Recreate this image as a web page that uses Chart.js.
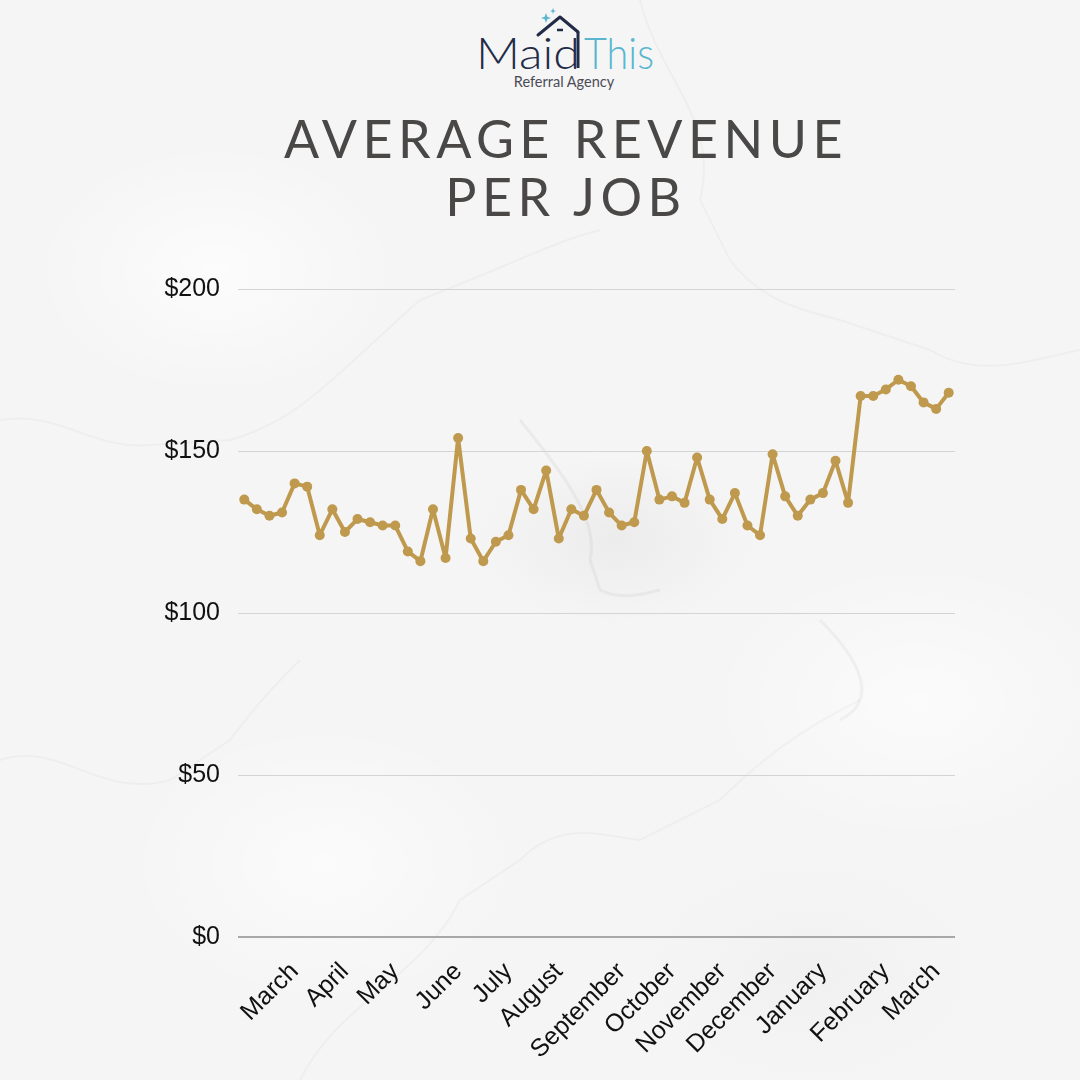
<!DOCTYPE html>
<html>
<head>
<meta charset="utf-8">
<script src="https://cdn.jsdelivr.net/npm/chart.js@4.4.1/dist/chart.umd.min.js"></script>
<style>
  html, body { margin: 0; padding: 0; }
  body {
    width: 1080px; height: 1080px; position: relative; overflow: hidden;
    background:
      radial-gradient(ellipse 260px 180px at 20% 25%, rgba(255,255,255,0.7), transparent 70%),
      radial-gradient(ellipse 200px 120px at 57% 50%, rgba(170,170,170,0.12), transparent 70%),
      radial-gradient(ellipse 300px 200px at 85% 65%, rgba(255,255,255,0.6), transparent 70%),
      radial-gradient(ellipse 280px 200px at 30% 80%, rgba(255,255,255,0.6), transparent 70%),
      radial-gradient(ellipse 240px 160px at 75% 90%, rgba(190,190,190,0.08), transparent 70%),
      #f5f5f5;
  }
  #veins { position: absolute; left: 0; top: 0; }
  #logo { position: absolute; left: 0; top: 0; }
  .title {
    position: absolute; top: 109px; left: 26px; width: 1080px; text-align: center;
    font-family: Lato, "Open Sans", sans-serif; font-weight: 400; font-size: 52px;
    line-height: 58px; letter-spacing: 5.5px; color: #4a4747;
  }
  #wrap { position: absolute; left: 0; top: 0; width: 1080px; height: 1080px; }
</style>
</head>
<body>
<svg id="veins" width="1080" height="1080" fill="none" stroke="rgba(120,120,120,0.05)" stroke-width="2">
  <path d="M0 420 C60 410 90 450 150 445 L230 440 C300 420 330 380 420 300 L470 280 C520 260 560 240 600 230" />
  <path d="M640 0 C660 80 720 120 700 200 L730 260 C760 300 800 310 840 320 L930 350 C980 380 1030 360 1080 350" />
  <path d="M300 1080 C340 1000 420 980 460 900 L520 860 C560 820 600 835 640 840 L720 800 C760 760 800 730 860 700" />
  <path d="M520 420 C560 470 600 520 590 560 L600 590 C620 600 640 595 660 590" stroke="rgba(120,120,120,0.08)" stroke-width="3" />
  <path d="M0 760 C60 740 100 800 170 780 L230 740 C260 700 280 680 300 660" />
  <path d="M820 620 C860 660 880 700 840 720" stroke="rgba(120,120,120,0.07)" stroke-width="3" />
</svg>
<svg id="logo" width="1080" height="100">
  <!-- roof -->
  <polyline points="538,35 560,17 578,32" fill="none" stroke="#232c47" stroke-width="3" stroke-linejoin="round" stroke-linecap="round" />
  <line x1="578" y1="32" x2="578" y2="68" stroke="#232c47" stroke-width="3" />
  <line x1="557" y1="30" x2="563" y2="30" stroke="#232c47" stroke-width="2.5" />
  <!-- sparkles -->
  <path d="M546 13 L547.3 16.7 L551 18 L547.3 19.3 L546 23 L544.7 19.3 L541 18 L544.7 16.7 Z" fill="#5ab6cf" />
  <path d="M553 8 L553.8 10.2 L556 11 L553.8 11.8 L553 14 L552.2 11.8 L550 11 L552.2 10.2 Z" fill="#5ab6cf" />
  <text x="476" y="69" font-family="Lato, sans-serif" font-weight="300" font-size="44" fill="#232c47" textLength="104" lengthAdjust="spacingAndGlyphs">Maid</text>
  <text x="584" y="69" font-family="Lato, sans-serif" font-weight="300" font-size="44" fill="#5ab6cf" textLength="70" lengthAdjust="spacingAndGlyphs">This</text>
  <text x="564" y="87" text-anchor="middle" font-family="Lato, sans-serif" font-size="14.5" fill="#4b4b55">Referral Agency</text>
</svg>
<div class="title">AVERAGE REVENUE<br>PER JOB</div>
<div id="wrap"><canvas id="chart"></canvas></div>
<script>
// weekly points, a month name only on the week it starts
const weekLabels = [
  '', '', '', '', 'March', '', '', '', 'April', '', '', '', 'May', '', '', '', '', 'June', '', '',
  '', 'July', '', '', '', 'August', '', '', '', '', 'September', '', '', '', 'October', '', '', '', 'November', '',
  '', '', 'December', '', '', '', 'January', '', '', '', '', 'February', '', '', '', 'March', ''
];

const revenue = [
  135, 132, 130, 131, 140, 139, 124, 132, 125, 129,
  128, 127, 127, 119, 116, 132, 117, 154, 123, 116,
  122, 124, 138, 132, 144, 123, 132, 130, 138, 131,
  127, 128, 150, 135, 136, 134, 148, 135, 129, 137,
  127, 124, 149, 136, 130, 135, 137, 147, 134, 167,
  167, 169, 172, 170, 165, 163, 168
];

const yTicks = [0, 50, 100, 150, 200];

const gold = '#bf994d';

const config = {
  type: 'line',
  data: {
    labels: weekLabels,
    datasets: [{
      label: 'Average revenue per job',
      data: revenue,
      borderColor: gold,
      backgroundColor: gold,
      borderWidth: 4,
      borderJoinStyle: 'round',
      borderCapStyle: 'round',
      pointRadius: 5,
      pointBorderWidth: 0,
      pointBackgroundColor: gold,
      tension: 0
    }]
  },
  options: {
    responsive: true,
    maintainAspectRatio: false,
    animation: false,
    layout: { padding: { left: 0, right: 125, top: 289, bottom: 0 } },
    plugins: {
      legend: { display: false },
      tooltip: { enabled: false }
    },
    scales: {
      x: {
        offset: true,
        grid: { display: false },
        border: { display: false },
        afterFit: axis => { axis.height = 143; },
        ticks: {
          autoSkip: false,
          minRotation: 45,
          maxRotation: 45,
          padding: 12,
          color: '#111',
          font: { family: 'Liberation Sans, Arial, sans-serif', size: 25 }
        }
      },
      y: {
        min: 0,
        max: 200,
        afterBuildTicks: function (axis) {
          axis.ticks = yTicks.map(v => ({ value: v }));
        },
        afterFit: axis => { axis.width = 238; },
        border: { display: false },
        grid: {
          drawTicks: false,
          color: ctx => ctx.tick && ctx.tick.value === 0 ? '#a8a8a8' : '#d4d4d4',
          lineWidth: ctx => ctx.tick && ctx.tick.value === 0 ? 2 : 1
        },
        ticks: {
          padding: 18,
          color: '#111',
          font: { family: 'Liberation Sans, Arial, sans-serif', size: 25 },
          callback: v => '$' + v
        }
      }
    }
  }
};

var ctx = document.getElementById('chart').getContext('2d');
var revenueChart = new Chart(ctx, config);
</script>
</body>
</html>
